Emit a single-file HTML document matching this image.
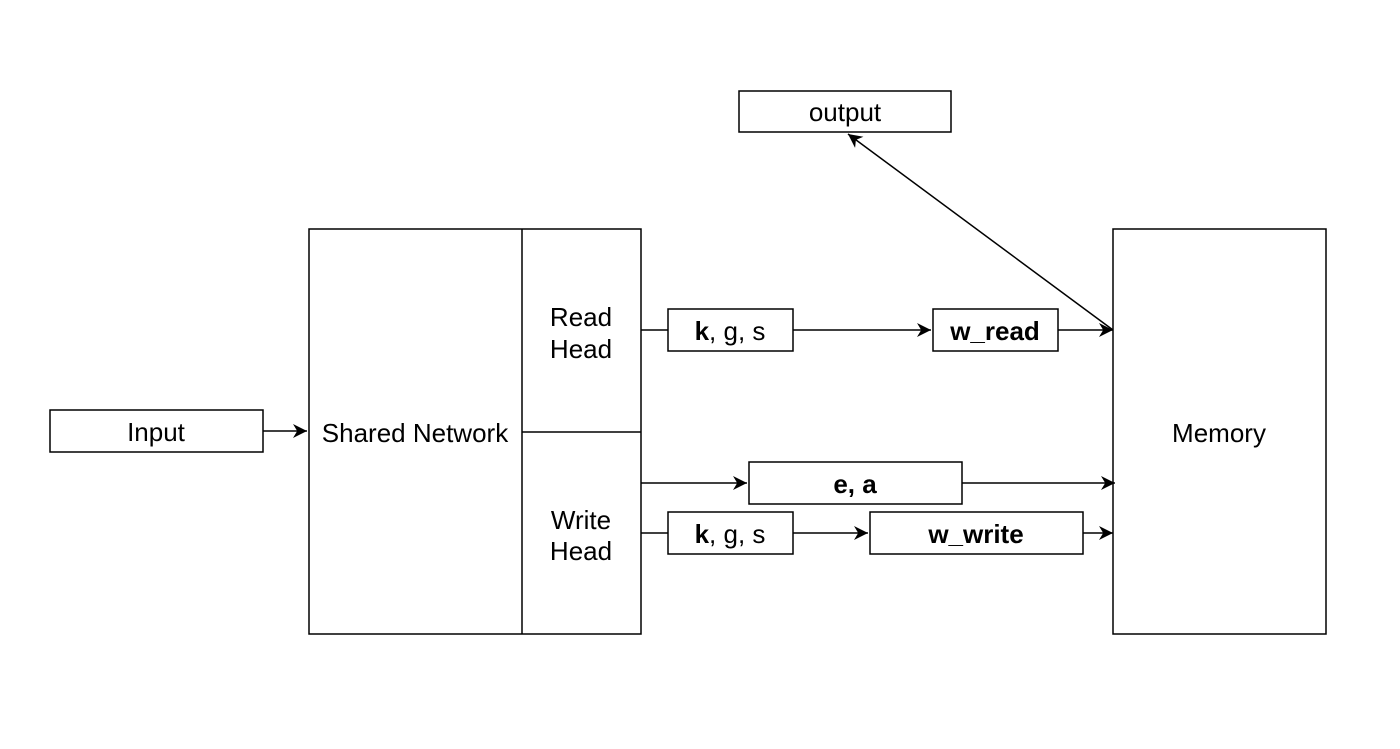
<!DOCTYPE html>
<html><head><meta charset="utf-8"><style>
html,body{margin:0;padding:0;background:#fff;}
svg{display:block;}
text{font-family:"Liberation Sans",Arial,sans-serif;font-size:26px;fill:#000;}
</style></head><body>
<svg width="1400" height="749" viewBox="0 0 1400 749" xmlns="http://www.w3.org/2000/svg">
<defs>
<marker id="b" viewBox="0 0 10 10" refX="10" refY="5" markerWidth="14" markerHeight="14" markerUnits="userSpaceOnUse" orient="auto">
<path d="M0,0 L10,5 L0,10 L3,5 Z" fill="#000"/>
</marker>
</defs>
<g fill="none" stroke="#000" stroke-width="1.5">
<rect x="50" y="410" width="213" height="42"/>
<rect x="309" y="229" width="332" height="405"/>
<line x1="522" y1="229" x2="522" y2="634"/>
<line x1="522" y1="432" x2="641" y2="432"/>
<rect x="1113" y="229" width="213" height="405"/>
<rect x="739" y="91" width="212" height="41"/>
<rect x="668" y="309" width="125" height="42"/>
<rect x="933" y="309" width="125" height="42"/>
<rect x="749" y="462" width="213" height="42"/>
<rect x="668" y="512" width="125" height="42"/>
<rect x="870" y="512" width="213" height="42"/>
<line x1="263" y1="431" x2="307" y2="431" marker-end="url(#b)"/>
<line x1="641" y1="330" x2="668" y2="330"/>
<line x1="793" y1="330" x2="931" y2="330" marker-end="url(#b)"/>
<line x1="1058" y1="330" x2="1113" y2="330" marker-end="url(#b)"/>
<line x1="641" y1="483" x2="747" y2="483" marker-end="url(#b)"/>
<line x1="962" y1="483" x2="1115" y2="483" marker-end="url(#b)"/>
<line x1="641" y1="533" x2="668" y2="533"/>
<line x1="793" y1="533" x2="868" y2="533" marker-end="url(#b)"/>
<line x1="1083" y1="533" x2="1113" y2="533" marker-end="url(#b)"/>
<line x1="1113" y1="330" x2="848" y2="134" marker-end="url(#b)"/>
</g>
<text x="156" y="441" text-anchor="middle">Input</text>
<text x="415" y="442" text-anchor="middle">Shared Network</text>
<text x="581" y="326" text-anchor="middle">Read</text>
<text x="581" y="358" text-anchor="middle">Head</text>
<text x="581" y="529" text-anchor="middle">Write</text>
<text x="581" y="560" text-anchor="middle">Head</text>
<text x="1219" y="442" text-anchor="middle">Memory</text>
<text x="845" y="121" text-anchor="middle">output</text>
<text x="730" y="340" text-anchor="middle"><tspan font-weight="bold">k</tspan>, g, s</text>
<text x="730" y="543" text-anchor="middle"><tspan font-weight="bold">k</tspan>, g, s</text>
<text x="995" y="340" text-anchor="middle" font-weight="bold">w_read</text>
<text x="855" y="493" text-anchor="middle" font-weight="bold">e, a</text>
<text x="976" y="543" text-anchor="middle" font-weight="bold">w_write</text>
</svg>
</body></html>
